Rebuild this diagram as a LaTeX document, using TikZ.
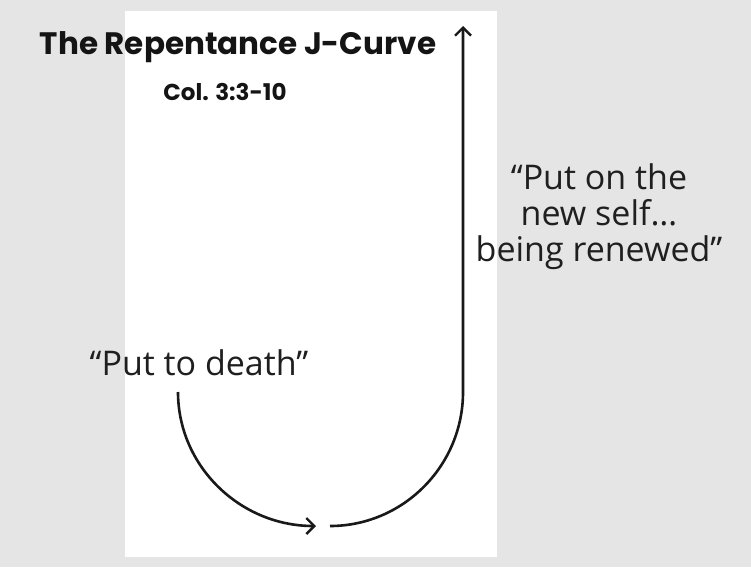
\documentclass[tikz,border=0pt]{standalone}
\usepackage{fontspec}
\setmainfont{Open Sans}
\newfontfamily\titlefont{Poppins}
\usepackage{tikz}
\usetikzlibrary{arrows.meta,positioning}

\begin{document}
\begin{tikzpicture}[
    x=1pt, y=-1pt,
    >={Straight Barb[length=8pt, width=16pt, line width=2.4pt]},
    heading/.style={font=\titlefont\bfseries\fontsize{31}{36}\selectfont, inner sep=0pt,
                    text=black!92},
    ref/.style={font=\titlefont\bfseries\fontsize{23}{26}\selectfont, inner sep=0pt,
                text=black!92},
    quote/.style={font=\fontsize{34}{36}\selectfont, align=center, inner sep=0pt,
                  text=black!88},
    jcurve/.style={->, line width=2.6pt, black!90},
]
% --- paper and page ---
\fill[black!10] (0,0) rectangle (751,567);
\fill[white] (125,11) rectangle (497,557);
\useasboundingbox (0,0) rectangle (751,567);

% --- headings ---
\node[heading, anchor=base] (title) at (238,55) {The Repentance J-Curve};
\node[ref, anchor=base] (col) at (225,100) {Col. 3:3-10};

% --- quotes ---
\node[quote, anchor=base] (death) at (199,375) {“Put to death”};
\node[quote, anchor=base] (renew) at (599,261)
  {“Put on the\\new self…\\being renewed”};

% --- the J ---
\coordinate (start) at (178,392);
\coordinate (low) at (316,526);
\coordinate (turn) at (330,526);
\coordinate (bend) at (463,392);
\coordinate (top) at (463,26);
\draw[jcurve] (start) .. controls (178,466) and (240,526) .. (low);
\draw[jcurve] (turn) .. controls (403,526) and (463,466) .. (bend) -- (top);
\end{tikzpicture}
\end{document}
